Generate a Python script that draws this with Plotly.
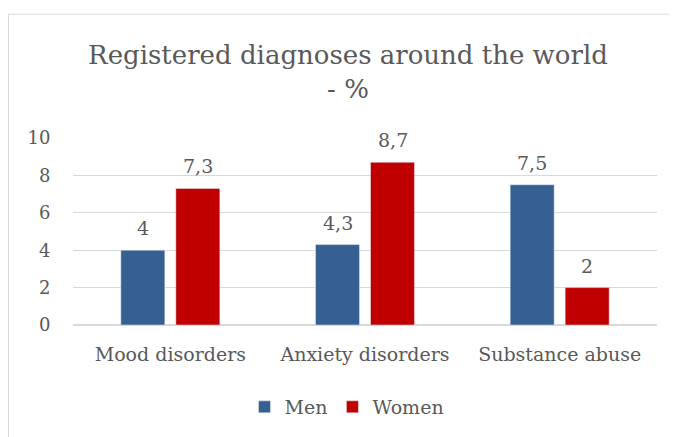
import plotly.graph_objects as go

categories = ["Mood disorders", "Anxiety disorders", "Substance abuse"]
men = [4, 4.3, 7.5]
women = [7.3, 8.7, 2]
series_names = ["Men", "Women"]
y_ticks = [0, 2, 4, 6, 8, 10]

BLUE = "#376092"
RED = "#C00000"
GRAY = "#595959"
FONT = "DejaVu Serif"

def fmt(v):
    return ("%g" % v).replace(".", ",")

# page body has an 8px margin: work in window coords, convert to figure coords
OFF = 8
W, H = 677 - OFF, 437 - OFF
L, R, T, B = 73 - OFF, 657 - OFF, 138 - OFF, 326 - OFF
pw, ph = R - L, B - T
def px(x):
    return (x - OFF - L) / pw
def py(y):
    return (B - (y - OFF)) / ph

fig = go.Figure()
fig.add_trace(go.Bar(name=series_names[0], x=categories, y=men, marker_color=BLUE))
fig.add_trace(go.Bar(name=series_names[1], x=categories, y=women, marker_color=RED))

annotations = []
for vals, shift in ((men, -27.5), (women, 27.5)):
    for c, v in zip(categories, vals):
        annotations.append(dict(x=c, y=v, xref="x", yref="y", text=fmt(v),
                                showarrow=False, yanchor="bottom", xshift=shift, yshift=9,
                                font=dict(family=FONT, size=19, color=GRAY)))

fig.update_layout(
    width=W, height=H,
    margin=dict(l=L, r=W - R, t=T, b=H - B),
    paper_bgcolor="white", plot_bgcolor="white",
    barmode="group", bargap=0.435, bargroupgap=0.2,
    title=dict(text="Registered diagnoses around the world<br>- %",
               x=px(348), xanchor="center", xref="paper", y=1 - (64 - OFF) / H, yanchor="middle",
               font=dict(family=FONT, size=26, color=GRAY)),
    font=dict(family=FONT, color=GRAY, size=18),
    xaxis=dict(showgrid=False, showline=False, ticks="outside", ticklen=12,
               tickcolor="rgba(0,0,0,0)", tickfont=dict(family=FONT, size=19, color=GRAY)),
    yaxis=dict(range=[0, 10], tickvals=y_ticks, showgrid=True, gridcolor="#D9D9D9",
               gridwidth=1, zeroline=True, zerolinecolor="#D9D9D9", showline=False,
               ticks="outside", ticklen=18, tickcolor="rgba(0,0,0,0)",
               tickfont=dict(family=FONT, size=18, color=GRAY)),
    legend=dict(orientation="h", x=px(347), xanchor="center", y=py(407), yanchor="middle",
                font=dict(family=FONT, size=19, color=GRAY), itemwidth=30, traceorder="normal"),
    annotations=annotations,
    shapes=[dict(type="rect", xref="paper", yref="paper",
                 x0=px(8.5), x1=px(700), y0=py(460), y1=py(13.5),
                 line=dict(color="#D9D9D9", width=1), layer="below")],
    showlegend=True,
)

fig.write_html("out.html")
